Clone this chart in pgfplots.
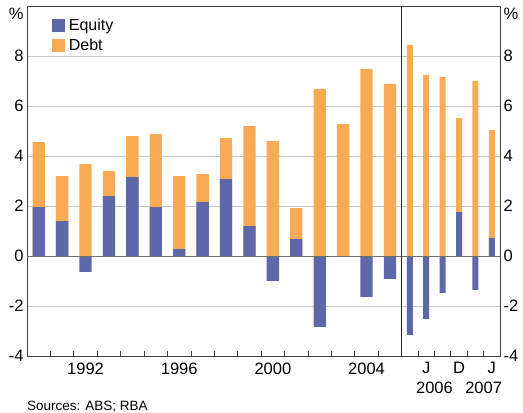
\documentclass[border=0pt]{standalone}
\usepackage{pgfplots}
\pgfplotsset{compat=1.18}
\usepackage{pgfplotstable}
\usepackage{fontspec}
\setmainfont{Liberation Sans}
\definecolor{equity}{HTML}{5E67A7}
\definecolor{debt}{HTML}{F9AA55}
\definecolor{gridc}{HTML}{C4C8CC}
\definecolor{framec}{HTML}{404040}
\definecolor{zeroc}{HTML}{6E6E6E}

\pgfplotstableread{
x top equity
0 4.56 1.96
1 3.20 1.40
2 3.68 -0.63
3 3.40 2.40
4 4.80 3.16
5 4.88 1.96
6 3.20 0.28
7 3.28 2.16
8 4.72 3.08
9 5.20 1.20
10 4.60 -0.99
11 1.92 0.68
12 6.68 -2.83
13 5.28 0.00
14 7.48 -1.63
15 6.88 -0.91
}\annual

\pgfplotstableread{
x top equity
15.85 8.44 -3.15
16.55 7.24 -2.51
17.25 7.16 -1.47
17.95 5.52 1.76
18.65 7.00 -1.35
19.35 5.04 0.72
}\quarterly

\newcommand{\tickfont}{\fontsize{16.5}{18}\selectfont}

\begin{document}
\begin{tikzpicture}
\useasboundingbox (-27pt,-57pt) rectangle (496pt,356pt);
\begin{axis}[
  scale only axis, width=473pt, height=350pt,
  xmin=-0.5, xmax=19.7, ymin=-4, ymax=10,
  clip=false,
  axis line style={framec, line width=0.8pt},
  ytick={-4,-2,0,2,4,6,8},
  ymajorgrids,
  major grid style={gridc, line width=0.8pt},
  ytick style={draw=none},
  xtick={0.5,1.5,2.5,3.5,4.5,5.5,6.5,7.5,8.5,9.5,10.5,11.5,12.5,13.5,14.5,15.5,16.2,16.9,17.6,18.3,19.0},
  xticklabels={},
  xtick pos=left,
  tick align=inside,
  major tick length=5pt,
  xtick style={framec, line width=0.8pt},
  extra x ticks={2,6,10,14,16.55,17.95,19.35},
  extra x tick labels={1992,1996,2000,2004,J,D,J},
  extra x tick style={major tick length=0pt, xticklabel style={yshift=-3pt}},
  tick label style={font=\tickfont, text=black},
  /pgf/number format/assume math mode=true,
  legend style={draw=none, fill=none, at={(0.048,0.975)}, anchor=north west,
    font=\fontsize{16}{17}\selectfont, row sep=3pt, inner sep=2pt},
  legend cell align=left,
  legend image code/.code={\path[#1] (0pt,-6.3pt) rectangle (12.6pt,6.3pt); \path (15pt,0pt);},
]
\addlegendimage{fill=equity, draw=none}
\addlegendentry{Equity}
\addlegendimage{fill=debt, draw=none}
\addlegendentry{Debt}
\addplot[ybar, bar width=12.3pt, bar shift=0pt, fill=debt, draw=none, forget plot] table[x=x, y=top] {\annual};
\addplot[ybar, bar width=12.3pt, bar shift=0pt, fill=equity, draw=none, forget plot] table[x=x, y=equity] {\annual};
\addplot[ybar, bar width=6pt, bar shift=0pt, fill=debt, draw=none, forget plot] table[x=x, y=top] {\quarterly};
\addplot[ybar, bar width=6pt, bar shift=0pt, fill=equity, draw=none, forget plot] table[x=x, y=equity] {\quarterly};
\draw[zeroc, line width=1pt] (axis cs:-0.5,0) -- (axis cs:19.7,0);
\draw[black!85, line width=0.8pt] (axis cs:15.5,-4) -- (axis cs:15.5,10);
\node[anchor=east, font=\tickfont] at (axis cs:-0.5,9.7) {\%};
\node[anchor=west, font=\tickfont] at (axis cs:19.7,9.7) {\%};
\node[anchor=base, font=\tickfont] at (axis cs:16.9,-4) [yshift=-37pt] {2006};
\node[anchor=base, font=\tickfont] at (axis cs:19.0,-4) [yshift=-37pt] {2007};
\node[anchor=base west, font=\fontsize{13.5}{14}\selectfont, inner sep=0pt] at (axis cs:-0.5,-4) [yshift=-54pt] {Sources: ABS; RBA};
\end{axis}
\begin{axis}[
  scale only axis, width=473pt, height=350pt,
  xmin=-0.5, xmax=19.7, ymin=-4, ymax=10,
  axis x line=none, axis y line*=right,
  y axis line style={framec, line width=0.8pt},
  ytick={-4,-2,0,2,4,6,8},
  ytick style={draw=none},
  tick label style={font=\tickfont, text=black},
  /pgf/number format/assume math mode=true,
]
\end{axis}
\end{tikzpicture}
\end{document}
